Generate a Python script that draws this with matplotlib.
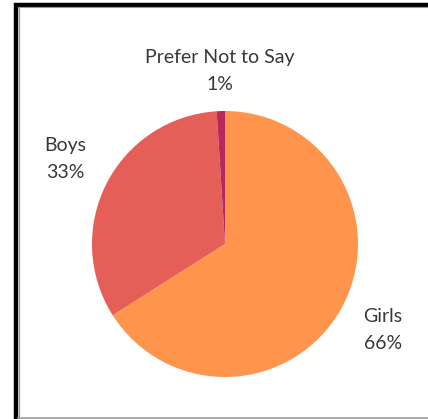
import matplotlib
matplotlib.use("Agg")
import matplotlib.pyplot as plt
from matplotlib.lines import Line2D

categories = ["Girls", "Boys", "Prefer Not to Say"]
values = [66, 33, 1]
colors = ["#FF944D", "#E55F59", "#B7295A"]

W, H = 428, 419
fig = plt.figure(figsize=(W / 100, H / 100), dpi=100)
fig.patch.set_facecolor("white")

cx, cy, r = 225, 244, 133
ax = fig.add_axes([(cx - r) / W, (H - cy - r) / H, 2 * r / W, 2 * r / H])
ax.pie(values, colors=colors, startangle=90, counterclock=False, radius=1,
       wedgeprops=dict(linewidth=0))
ax.set_xlim(-1, 1)
ax.set_ylim(-1, 1)
ax.set_aspect("auto")
ax.axis("off")

label_pos = {
    "Girls": ((383 - cx) / r, (cy - 330) / r),
    "Boys": ((65 - cx) / r, (cy - 159) / r),
    "Prefer Not to Say": ((220 - cx) / r, (cy - 71) / r),
}
for cat, v in zip(categories, values):
    x, y = label_pos[cat]
    ax.text(x, y, f"{cat}\n{v}%", ha="center", va="center", fontsize=14,
            family="Lato", fontweight="normal", color="#383838",
            linespacing=1.7, clip_on=False)

def fx(px):
    return px / W

def fy(py):
    return 1 - py / H

# frame
fig.add_artist(Line2D([fx(16), fx(16)], [fy(3), fy(419)], color="black", lw=3.2, solid_capstyle="butt"))
fig.add_artist(Line2D([fx(14), fx(428)], [fy(5), fy(5)], color="black", lw=3.2, solid_capstyle="butt"))
fig.add_artist(Line2D([fx(18.5), fx(18.5)], [fy(7), fy(418.5)], color="#999999", lw=0.9))
fig.add_artist(Line2D([fx(18), fx(428)], [fy(418), fy(418)], color="#999999", lw=1.2))
fig.add_artist(Line2D([fx(18), fx(428)], [fy(7.5), fy(7.5)], color="#999999", lw=0.8))

fig.savefig("out.png", dpi=100, facecolor="white")
